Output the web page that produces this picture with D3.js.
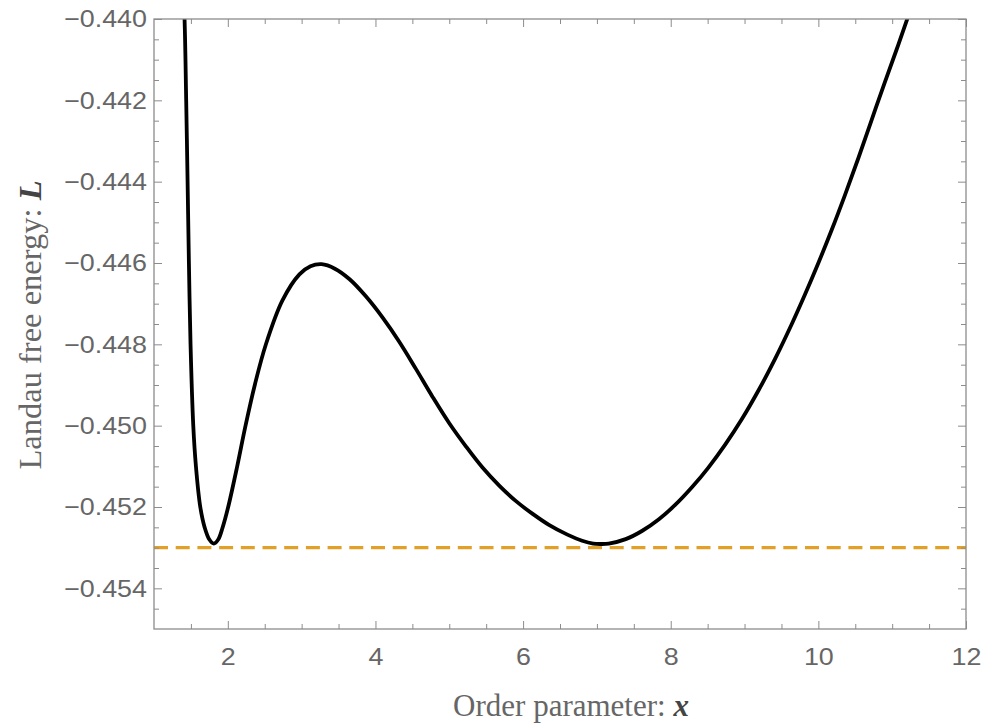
<!DOCTYPE html>
<html>
<head>
<meta charset="utf-8">
<script src="https://cdn.jsdelivr.net/npm/d3@7"></script>
<style>
  html, body { margin: 0; padding: 0; background: #fff; }
  svg { display: block; }
</style>
</head>
<body>
<svg id="chart" width="984" height="724"></svg>
<script>
// ---- data ----
const curveX = [1.38, 1.414, 1.436, 1.455, 1.473, 1.495, 1.532, 1.568, 1.627, 1.686, 1.75, 1.81, 1.87, 1.93, 2.005, 2.127, 2.24, 2.368, 2.514, 2.74, 2.97, 3.12, 3.27, 3.45, 3.65, 3.87, 4.10, 4.32, 4.55, 4.77, 5.0, 5.23, 5.45, 5.68, 5.90, 6.13, 6.35, 6.6, 6.8, 6.95, 7.05, 7.16, 7.39, 7.61, 7.84, 8.06, 8.29, 8.51, 8.74, 8.96, 9.19, 9.41, 9.64, 9.82, 10.0, 10.18, 10.36, 10.54, 10.72, 10.90, 11.06, 11.2, 11.3];
const curveL = [-0.4385, -0.4400, -0.4420, -0.4440, -0.4460, -0.4480, -0.4500, -0.4510, -0.4520, -0.4525, -0.45280, -0.45290, -0.45280, -0.4525, -0.4520, -0.4510, -0.4500, -0.44898, -0.44801, -0.44692, -0.44628, -0.44608, -0.44603, -0.44614, -0.44640, -0.44682, -0.44735, -0.44793, -0.44861, -0.44928, -0.44994, -0.45052, -0.45103, -0.45148, -0.45185, -0.45217, -0.45244, -0.45268, -0.45283, -0.45290, -0.45291, -0.45290, -0.45279, -0.45259, -0.45230, -0.45195, -0.45151, -0.45103, -0.45046, -0.44985, -0.44913, -0.44837, -0.44750, -0.44677, -0.44600, -0.44519, -0.44433, -0.44343, -0.44249, -0.44156, -0.44075, -0.44002, -0.4395];
const refLevel = [-0.453];
const xDomain = [1, 12];
const yDomain = [-0.455, -0.440];
const xMajorTicks = [2, 4, 6, 8, 10, 12];
const xMinorTicks = [1.5, 2.5, 3, 3.5, 4.5, 5, 5.5, 6.5, 7, 7.5, 8.5, 9, 9.5, 10.5, 11, 11.5];
const yMajorTicks = [-0.454, -0.452, -0.450, -0.448, -0.446, -0.444, -0.442, -0.440];
const yMinorTicks = [-0.4545, -0.4535, -0.453, -0.4525, -0.4515, -0.451, -0.4505, -0.4495, -0.449, -0.4485, -0.4475, -0.447, -0.4465, -0.4455, -0.445, -0.4445, -0.4435, -0.443, -0.4425, -0.4415, -0.441, -0.4405];
const xTitle = "Order parameter: ";
const xTitleVar = "x";
const yTitle = "Landau free energy: ";
const yTitleVar = "L";

// ---- layout ----
const pL = 154, pR = 966, pT = 19, pB = 629;
const frameColor = "#8c8c8c";
const labelColor = "#666666";
const tickFont = "'Liberation Sans', Arial, sans-serif";
const titleFont = "'Liberation Serif', 'Times New Roman', serif";

const svg = d3.select("#chart");
const x = d3.scaleLinear().domain(xDomain).range([pL, pR]);
const y = d3.scaleLinear().domain(yDomain).range([pB, pT]);

svg.append("defs").append("clipPath").attr("id", "plotclip")
  .append("rect").attr("x", pL).attr("y", pT)
  .attr("width", pR - pL).attr("height", pB - pT);

// dashed reference line
svg.append("g").attr("clip-path", "url(#plotclip)")
  .selectAll("line").data(refLevel).join("line")
  .attr("x1", x(xDomain[0])).attr("x2", x(xDomain[1]))
  .attr("y1", d => y(d)).attr("y2", d => y(d))
  .attr("stroke", "#E1A028").attr("stroke-width", 3.2)
  .attr("stroke-dasharray", "14,7.7");

// curve
const pts = curveX.map((v, i) => [v, curveL[i]]);
svg.append("g").attr("clip-path", "url(#plotclip)")
  .append("path").datum(pts)
  .attr("fill", "none").attr("stroke", "#000").attr("stroke-width", 3.8)
  .attr("stroke-linejoin", "round")
  .attr("d", d3.line().x(d => x(d[0])).y(d => y(d[1])).curve(d3.curveCatmullRom.alpha(0.5)));

function styleAxis(g) {
  g.select(".domain").remove();
  g.selectAll(".tick line").attr("stroke", frameColor).attr("stroke-width", 1);
}

// bottom axis
const gB = svg.append("g").attr("transform", `translate(0,${pB})`)
  .call(d3.axisBottom(x).tickValues(xMajorTicks).tickSize(-8).tickFormat(d3.format("d")));
styleAxis(gB);
gB.selectAll(".tick text")
  .attr("y", 0).attr("dy", null)
  .attr("transform", "translate(0,36) scale(1.12,1)")
  .attr("fill", labelColor).style("font-family", tickFont).style("font-size", "24px");
svg.append("g").attr("transform", `translate(0,${pB})`)
  .call(d3.axisBottom(x).tickValues(xMinorTicks).tickSize(-5).tickFormat(""))
  .call(styleAxis);

// top axis (mirror ticks)
svg.append("g").attr("transform", `translate(0,${pT})`)
  .call(d3.axisTop(x).tickValues(xMajorTicks).tickSize(-8).tickFormat(""))
  .call(styleAxis);
svg.append("g").attr("transform", `translate(0,${pT})`)
  .call(d3.axisTop(x).tickValues(xMinorTicks).tickSize(-5).tickFormat(""))
  .call(styleAxis);

// left axis
const gL = svg.append("g").attr("transform", `translate(${pL},0)`)
  .call(d3.axisLeft(y).tickValues(yMajorTicks).tickSize(-8).tickFormat(d3.format(".3f")));
styleAxis(gL);
gL.selectAll(".tick text")
  .attr("x", 0)
  .attr("transform", "translate(-7,0) scale(1.12,1)")
  .attr("fill", labelColor).style("font-family", tickFont).style("font-size", "24px");
svg.append("g").attr("transform", `translate(${pL},0)`)
  .call(d3.axisLeft(y).tickValues(yMinorTicks).tickSize(-5).tickFormat(""))
  .call(styleAxis);

// right axis (mirror ticks)
svg.append("g").attr("transform", `translate(${pR},0)`)
  .call(d3.axisRight(y).tickValues(yMajorTicks).tickSize(-8).tickFormat(""))
  .call(styleAxis);
svg.append("g").attr("transform", `translate(${pR},0)`)
  .call(d3.axisRight(y).tickValues(yMinorTicks).tickSize(-5).tickFormat(""))
  .call(styleAxis);

// frame
svg.append("rect").attr("x", pL).attr("y", pT)
  .attr("width", pR - pL).attr("height", pB - pT)
  .attr("fill", "none").attr("stroke", frameColor).attr("stroke-width", 1.3);

// x title
const xt = svg.append("text")
  .attr("transform", `translate(571,716)`)
  .attr("text-anchor", "middle")
  .attr("fill", labelColor).style("font-family", titleFont).style("font-size", "31px");
xt.append("tspan").text(xTitle);
xt.append("tspan").text(xTitleVar).attr("fill", "#444").style("font-weight", "bold").style("font-style", "italic");

// y title
const yt = svg.append("text")
  .attr("transform", `translate(41,325) rotate(-90)`)
  .attr("text-anchor", "middle")
  .attr("fill", labelColor).style("font-family", titleFont).style("font-size", "32.5px");
yt.append("tspan").text(yTitle);
yt.append("tspan").text(yTitleVar).attr("fill", "#444").style("font-weight", "bold").style("font-style", "italic");
</script>
</body>
</html>
